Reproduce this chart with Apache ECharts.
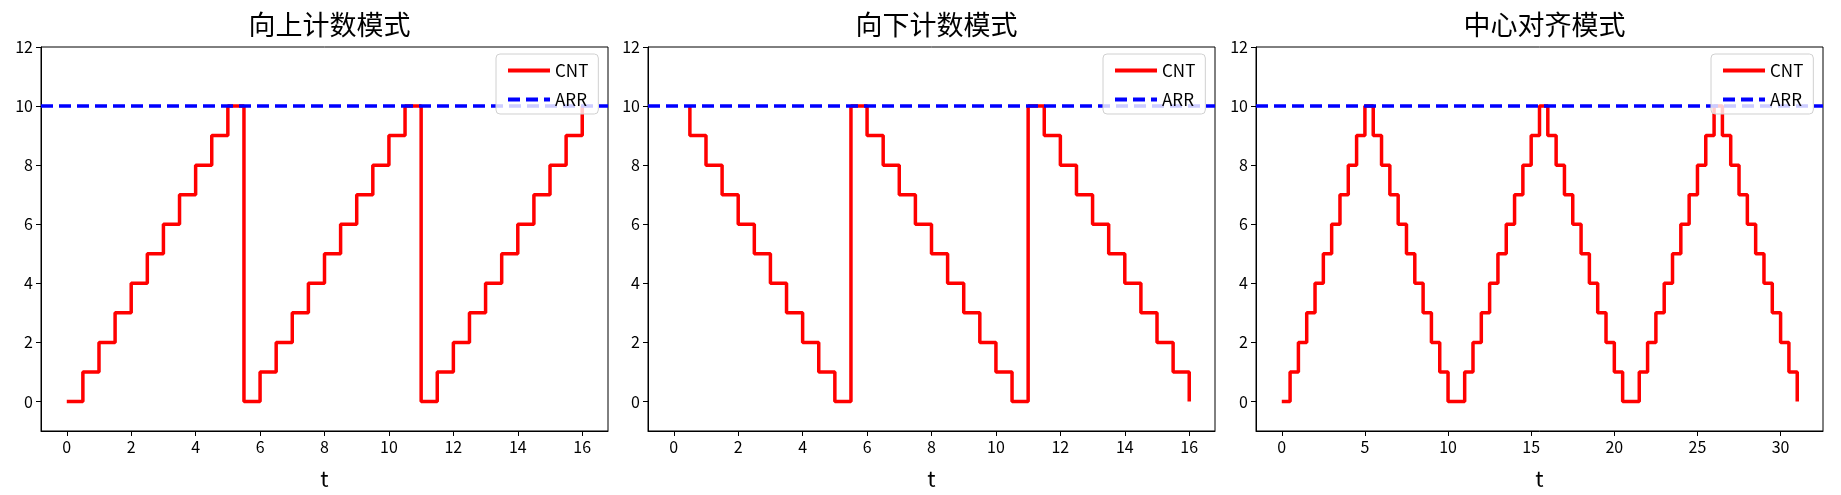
<!DOCTYPE html>
<html><head><meta charset="utf-8">
<script src="https://cdn.jsdelivr.net/npm/echarts@6/dist/echarts.min.js"></script>
<style>html,body{margin:0;padding:0;background:#fff}#c{width:1841px;height:495px}</style>
</head><body><div id="c"></div>
<script>
const titles = ['向上计数模式', '向下计数模式', '中心对齐模式'];
const upT = [0,0.5,1,1.5,2,2.5,3,3.5,4,4.5,5,5.5,6,6.5,7,7.5,8,8.5,9,9.5,10,10.5,11,11.5,12,12.5,13,13.5,14,14.5,15,15.5,16];
const upCnt = [0,1,2,3,4,5,6,7,8,9,10,0,1,2,3,4,5,6,7,8,9,10,0,1,2,3,4,5,6,7,8,9,10];
const downT = [0.5,1,1.5,2,2.5,3,3.5,4,4.5,5,5.5,6,6.5,7,7.5,8,8.5,9,9.5,10,10.5,11,11.5,12,12.5,13,13.5,14,14.5,15,15.5,16,16];
const downCnt = [10,9,8,7,6,5,4,3,2,1,0,10,9,8,7,6,5,4,3,2,1,0,10,9,8,7,6,5,4,3,2,1,0];
const centerT = [0,0.5,1,1.5,2,2.5,3,3.5,4,4.5,5,5.5,6,6.5,7,7.5,8,8.5,9,9.5,10,10.5,11,11.5,12,12.5,13,13.5,14,14.5,15,15.5,16,16.5,17,17.5,18,18.5,19,19.5,20,20.5,21,21.5,22,22.5,23,23.5,24,24.5,25,25.5,26,26.5,27,27.5,28,28.5,29,29.5,30,30.5,31];
const centerCnt = [0,1,2,3,4,5,6,7,8,9,10,9,8,7,6,5,4,3,2,1,0,0,1,2,3,4,5,6,7,8,9,10,9,8,7,6,5,4,3,2,1,0,0,1,2,3,4,5,6,7,8,9,10,9,8,7,6,5,4,3,2,1,0];
const ARR = 10;
const xRanges = [[-0.8,16.8],[-0.8,16.8],[-1.55,32.55]];
const xTicks = [[0,2,4,6,8,10,12,14,16],[0,2,4,6,8,10,12,14,16],[0,5,10,15,20,25,30]];
const yTicks = [0,2,4,6,8,10,12];
const yRange = [-1,12];
const stepModes = ['end','start','end'];

const panels = [[upT,upCnt],[downT,downCnt],[centerT,centerCnt]];
const lefts = [41,648,1256], W = 567;
const font = '"Noto Sans CJK SC", "DejaVu Sans", sans-serif';
const option = {animation:false, title:[], grid:[], xAxis:[], yAxis:[], series:[], legend:[]};
panels.forEach((p,i)=>{
  option.title.push({text:titles[i], left:lefts[i]+W/2, top:6, textAlign:'center',
    textStyle:{fontFamily:font,fontSize:27,fontWeight:'normal',color:'#000'}});
  option.grid.push({left:lefts[i], width:W, top:47, height:386, show:true, borderColor:'#000', borderWidth:1, backgroundColor:'transparent'});
  option.xAxis.push({type:'value', gridIndex:i, min:xRanges[i][0], max:xRanges[i][1],
    name:'t', nameLocation:'middle', nameGap:37, nameTextStyle:{fontFamily:font,fontSize:22,color:'#000'},
    axisLine:{show:true,onZero:false,lineStyle:{color:'#000'}}, splitLine:{show:false},
    axisTick:{show:true,length:5,customValues:xTicks[i],lineStyle:{color:'#000'}},
    axisLabel:{customValues:xTicks[i],fontFamily:font,fontSize:16,color:'#000',margin:8}});
  option.yAxis.push({type:'value', gridIndex:i, min:yRange[0], max:yRange[1],
    axisLine:{show:true,onZero:false,lineStyle:{color:'#000'}}, splitLine:{show:false},
    axisTick:{show:true,length:5,customValues:yTicks,lineStyle:{color:'#000'}},
    axisLabel:{customValues:yTicks,fontFamily:font,fontSize:16,color:'#000',margin:8}});
  option.series.push({type:'line', name:'CNT', xAxisIndex:i, yAxisIndex:i, step:stepModes[i],
    showSymbol:false, symbol:'none', data:p[0].map((t,k)=>[t,p[1][k]]),
    lineStyle:{color:'#ff0000',width:3.5}, itemStyle:{color:'#ff0000'}, z:2});
  option.series.push({type:'line', name:'ARR', xAxisIndex:i, yAxisIndex:i,
    showSymbol:false, symbol:'none', data:[[xRanges[i][0],ARR],[xRanges[i][1],ARR]],
    lineStyle:{color:'#0000ff',width:3.5,type:[12,6]}, itemStyle:{color:'#0000ff'}, z:3});
  option.legend.push({data:['CNT','ARR'], orient:'vertical', left:lefts[i]+W-112, top:54,
    itemWidth:42, itemHeight:12, itemGap:12, padding:[8,10,6,10],
    itemStyle:{opacity:0}, lineStyle:{width:4},
    backgroundColor:'rgba(255,255,255,0.8)', borderColor:'#d0d0d0', borderWidth:1, borderRadius:4,
    textStyle:{fontFamily:font,fontSize:17,color:'#000'}});
});
echarts.init(document.getElementById('c')).setOption(option);
</script></body></html>
